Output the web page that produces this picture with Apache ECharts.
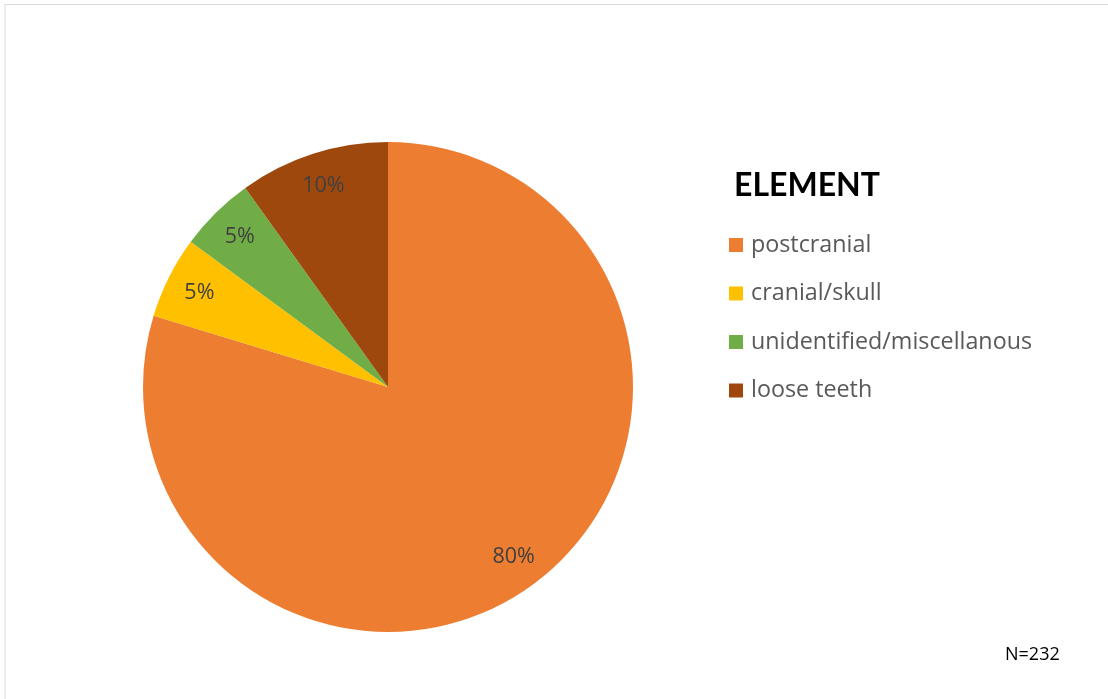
<!DOCTYPE html>
<html><head><meta charset="utf-8">
<script src="https://cdn.jsdelivr.net/npm/echarts@6/dist/echarts.min.js"></script>
<style>html,body{margin:0;padding:0;background:#fff}#c{width:1108px;height:699px}</style>
</head><body><div id="c"></div>
<script>
const categories = ['postcranial', 'cranial/skull', 'unidentified/miscellanous', 'loose teeth'];
const percents = [79.7, 5.4, 5.0, 9.9];
const colors = ['#ED7D31', '#FFC000', '#70AD47', '#9E480E'];
const legendTitle = 'ELEMENT';
const noteText = 'N=232';

const data = categories.map((n, i) => ({ name: n, value: percents[i], itemStyle: { color: colors[i] } }));
const font = '"Open Sans", Lato, sans-serif';
const chart = echarts.init(document.getElementById('c'));
chart.setOption({
  animation: false,
  backgroundColor: '#fff',
  title: { text: legendTitle, left: 734, top: 170, padding: 0,
    textStyle: { fontFamily: 'Lato, sans-serif', fontWeight: 'bold', fontSize: 32, color: '#000' } },
  legend: {
    orient: 'vertical', left: 729, top: 233, padding: 0,
    data: categories, icon: 'rect', itemWidth: 14, itemHeight: 14, itemGap: 24.5,
    textStyle: { fontFamily: font, fontSize: 23.3, color: '#595959', lineHeight: 24, padding: [0, 0, 0, 3] }
  },
  graphic: [
    { type: 'polyline', shape: { points: [[5, 699], [5, 4.5], [1108, 4.5]] }, style: { stroke: '#d9d9d9', lineWidth: 1, fill: null } },
    { type: 'text', left: 1005, top: 646, style: { text: noteText, font: '18px ' + font, fill: '#000' } }
  ],
  series: [
    {
      type: 'pie', center: [388, 387], radius: [0, 245], startAngle: 90, clockwise: true,
      data: data, label: { show: false }, labelLine: { show: false }, silent: true
    },
    {
      type: 'pie', center: [388, 387], radius: [171, 245], startAngle: 90, clockwise: true,
      data: categories.map((n, i) => ({ name: n, value: percents[i] })),
      itemStyle: { color: 'rgba(0,0,0,0)' }, silent: true, legendHoverLink: false,
      label: { show: true, position: 'inside', fontFamily: font, fontSize: 21.5, color: '#404040',
        formatter: p => Math.round(p.percent) + '%' },
      labelLine: { show: false }
    }
  ]
});
</script></body></html>
